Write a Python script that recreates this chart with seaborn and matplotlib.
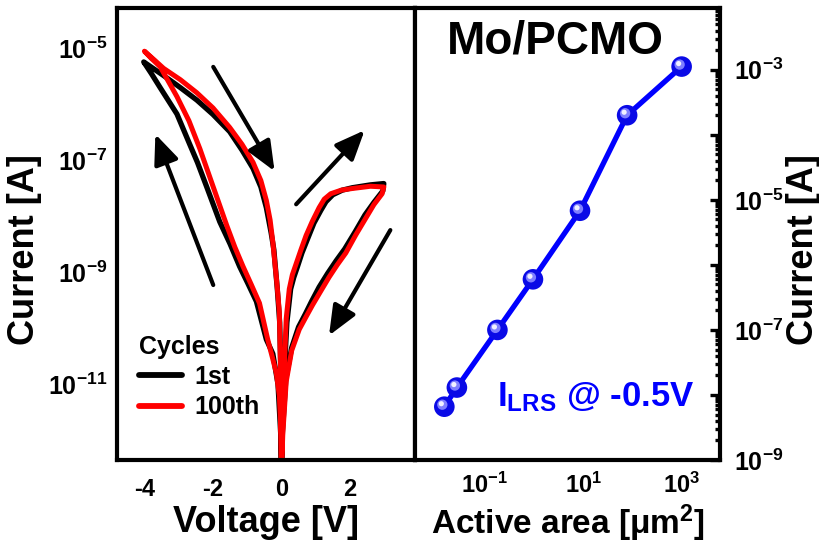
import numpy as np
import pandas as pd
import matplotlib
matplotlib.use("Agg")
import matplotlib.pyplot as plt
import matplotlib.transforms as mtransforms
from matplotlib.ticker import LogLocator, FixedLocator, FuncFormatter, NullFormatter
from matplotlib.lines import Line2D
import seaborn as sns

# ---------------- data ----------------
# 1st cycle: 0 -> +3 V -> 0 -> -4 V -> 0
volt_1st = [0.0, 0.03, 0.10, 0.16, 0.27, 0.36, 0.47, 0.6, 0.77, 0.95, 1.15, 1.3, 1.5, 1.78, 2.07, 2.6, 2.99,
            2.96, 2.7, 2.44, 2.15, 1.85, 1.6, 1.35, 1.1, 0.88, 0.7, 0.5, 0.3, 0.13, 0.03, 0.0,
            -0.02, -0.1, -0.25, -0.44, -0.73, -0.98, -1.22, -1.5, -1.8, -2.18, -2.45, -2.67, -3.05, -3.54, -3.8, -4.02,
            -3.44, -2.95, -2.47, -2.0, -1.51, -1.15, -0.83, -0.6, -0.44, -0.3, -0.22, -0.12, -0.05, -0.02, -0.005, 0.0]
curr_1st = [2.5e-13, 4.0e-12, 2.5e-11, 1.26e-10, 5.0e-10, 8.0e-10, 1.26e-9, 2.2e-9, 4.0e-9, 7.5e-9, 1.26e-8, 1.8e-8, 2.4e-8, 2.9e-8, 3.2e-8, 3.6e-8, 3.8e-8,
            2.8e-8, 1.75e-8, 1.05e-8, 5.2e-9, 2.6e-9, 1.6e-9, 9.5e-10, 5.4e-10, 3.0e-10, 1.8e-10, 1.05e-10, 4.5e-11, 1.26e-11, 1.4e-12, 2.5e-13,
            1.26e-12, 1.0e-11, 3.5e-11, 6.3e-11, 3.0e-10, 6.3e-10, 1.26e-9, 3.2e-9, 7.9e-9, 3.3e-8, 9.0e-8, 1.86e-7, 6.6e-7, 1.95e-6, 3.5e-6, 5.6e-6,
            3.2e-6, 1.95e-6, 1.17e-6, 6.5e-7, 3.2e-7, 1.5e-7, 7.1e-8, 3.3e-8, 1.41e-8, 5.0e-9, 2.5e-9, 5.0e-10, 1.26e-10, 2.0e-11, 2.5e-12, 2.5e-13]

# 100th cycle
volt_100th = [0.0, 0.03, 0.09, 0.14, 0.23, 0.32, 0.43, 0.57, 0.72, 0.9, 1.10, 1.25, 1.44, 1.75, 2.07, 2.6, 2.99,
              2.94, 2.7, 2.46, 2.17, 1.88, 1.63, 1.39, 1.15, 0.91, 0.72, 0.52, 0.3, 0.14, 0.04, 0.0,
              -0.01, -0.06, -0.15, -0.25, -0.4, -0.64, -0.88, -1.12, -1.36, -1.6, -1.99, -2.38, -2.7, -3.05, -3.54, -3.8, -4.0,
              -3.7, -3.44, -2.95, -2.47, -2.0, -1.51, -1.15, -0.83, -0.6, -0.44, -0.33, -0.25, -0.14, -0.06, -0.03, -0.01, 0.0]
curr_100th = [2.5e-13, 5.0e-12, 2.5e-11, 1.48e-10, 5.0e-10, 9.0e-10, 1.41e-9, 2.5e-9, 4.5e-9, 8.0e-9, 1.41e-8, 2.0e-8, 2.5e-8, 2.9e-8, 3.1e-8, 3.4e-8, 3.3e-8,
              2.5e-8, 1.6e-8, 9.1e-9, 4.6e-9, 2.2e-9, 1.35e-9, 8.1e-10, 4.6e-10, 2.6e-10, 1.6e-10, 9.5e-11, 4.0e-11, 1.12e-11, 1.3e-12, 2.5e-13,
              1.26e-12, 6.3e-12, 1.6e-11, 2.8e-11, 6.3e-11, 2.8e-10, 6.0e-10, 1.26e-9, 2.8e-9, 6.9e-9, 3.3e-8, 1.58e-7, 5.0e-7, 1.35e-6, 4.6e-6, 6.5e-6, 8.7e-6,
              6.0e-6, 4.3e-6, 2.7e-6, 1.58e-6, 8.5e-7, 3.8e-7, 1.9e-7, 9.1e-8, 4.3e-8, 1.9e-8, 8.5e-9, 3.4e-9, 7.1e-10, 1.95e-10, 2.3e-11, 2.7e-12, 2.5e-13]

cycle_labels = ["1st", "100th"]
cycle_colors = ["black", "#ff0000"]

# area dependence
active_area = [0.015, 0.027, 0.18, 0.95, 8.6, 78, 1000]
lrs_current = [6.6e-9, 1.3e-8, 1.0e-7, 6.0e-7, 6.8e-6, 2.0e-4, 1.12e-3]

xticks_v = [-4, -2, 0, 2]

# ---------------- style ----------------
sns.set_theme(style="white")
plt.rcParams["font.family"] = ["Liberation Sans", "DejaVu Sans"]
plt.rcParams["font.weight"] = "bold"
plt.rcParams["text.color"] = "black"
plt.rcParams["axes.labelcolor"] = "black"
plt.rcParams["xtick.color"] = "black"
plt.rcParams["ytick.color"] = "black"
plt.rcParams["mathtext.fontset"] = "custom"
plt.rcParams["mathtext.rm"] = "Liberation Sans:bold"
plt.rcParams["mathtext.bf"] = "Liberation Sans:bold"
plt.rcParams["mathtext.it"] = "Liberation Sans:bold:italic"
plt.rcParams["mathtext.default"] = "rm"

fig = plt.figure(figsize=(8.2, 5.48), dpi=100)
fig.patch.set_facecolor("white")
ax1 = fig.add_axes([117 / 820, 1 - 460 / 548, 298 / 820, 452 / 548])
ax2 = fig.add_axes([415 / 820, 1 - 460 / 548, 305 / 820, 452 / 548])

df = pd.concat([
    pd.DataFrame({"V": volt_1st, "I": curr_1st, "cycle": cycle_labels[0]}),
    pd.DataFrame({"V": volt_100th, "I": curr_100th, "cycle": cycle_labels[1]}),
])

for lab, col, lw in zip(cycle_labels, cycle_colors, [3.8, 3.6]):
    sub = df[df["cycle"] == lab]
    sns.lineplot(data=sub, x="V", y="I", sort=False, estimator=None, color=col,
                 lw=lw, ax=ax1, legend=False, solid_joinstyle="round", solid_capstyle="round")

ax1.set_yscale("log")
ax1.set_xlim(-4.8, 3.9)
ax1.set_ylim(10 ** -12.35, 10 ** -4.29)


def odd_exp(val, pos):
    e = int(round(np.log10(val)))
    if e % 2 != 0:
        return r"$10^{%d}$" % e
    return ""


ax1.xaxis.set_major_locator(FixedLocator(xticks_v))
ax1.xaxis.set_minor_locator(FixedLocator([-3, -1, 1, 3]))
ax1.yaxis.set_major_locator(LogLocator(base=10, numticks=20))
ax1.yaxis.set_minor_locator(LogLocator(base=10, subs=np.arange(2, 10), numticks=20))
ax1.yaxis.set_major_formatter(FuncFormatter(odd_exp))
ax1.yaxis.set_minor_formatter(NullFormatter())
ax1.set_xticklabels([str(t) for t in xticks_v])
ax1.tick_params(axis="both", which="both", direction="in", labelsize=17, width=2.4,
                top=False, right=False)
ax1.tick_params(axis="y", labelsize=18)
ax1.tick_params(axis="both", which="major", length=7.5)
ax1.tick_params(axis="both", which="minor", length=3.8)
ax1.tick_params(axis="x", pad=13)
ax1.tick_params(axis="y", pad=7)
ax1.set_xlabel("Voltage [V]", fontsize=26, fontweight="bold")
ax1.set_ylabel("Current [A]", fontsize=26, fontweight="bold")
ax1.xaxis.set_label_coords(0.5, -0.10)
ax1.yaxis.set_label_coords(-0.25, 0.465)

# arrows
arrows = [((-1.99, 10 ** -5.34), (-0.20, 10 ** -7.20)),
          ((-1.99, 10 ** -9.23), (-3.68, 10 ** -6.54)),
          ((0.43, 10 ** -7.79), (2.43, 10 ** -6.47)),
          ((3.18, 10 ** -8.25), (1.39, 10 ** -10.13))]
for tail, head in arrows:
    ax1.annotate("", xy=head, xytext=tail,
                 arrowprops=dict(arrowstyle="-|>,head_length=0.9,head_width=0.38",
                                 lw=3.0, color="black", mutation_scale=20, shrinkA=0, shrinkB=0))

handles = [Line2D([0], [0], color=c, lw=4.2) for c in cycle_colors]
leg = ax1.legend(handles, cycle_labels, title="Cycles", loc="lower left",
                 bbox_to_anchor=(0.0, 0.04), frameon=False, fontsize=18, title_fontsize=18,
                 handlelength=1.7, handletextpad=0.5, labelspacing=0.25, alignment="left")
for t in leg.get_texts():
    t.set_fontweight("bold")
    t.set_color("black")
leg.get_title().set_fontweight("bold")
leg.get_title().set_color("black")

# ---------------- right panel ----------------
sns.lineplot(x=active_area, y=lrs_current, color="#0000ff", lw=3.8, ax=ax2, legend=False)
sns.scatterplot(x=active_area, y=lrs_current, color="#0a0ae6", s=220, edgecolor="none",
                ax=ax2, legend=False, zorder=3)
hl1 = mtransforms.offset_copy(ax2.transData, fig=fig, x=-2, y=2, units="dots")
ax2.scatter(active_area, lrs_current, s=55, color="#7f7fff", edgecolor="none",
            transform=hl1, zorder=4)
hl2 = mtransforms.offset_copy(ax2.transData, fig=fig, x=-3, y=3, units="dots")
ax2.scatter(active_area, lrs_current, s=14, color="#f0f0ff", edgecolor="none",
            transform=hl2, zorder=5)

ax2.set_xscale("log")
ax2.set_yscale("log")
ax2.set_xlim(10 ** -2.42, 10 ** 3.78)
ax2.set_ylim(1e-9, 10 ** -2.05)
ax2.xaxis.set_major_locator(LogLocator(base=10, numticks=20))
ax2.xaxis.set_minor_locator(LogLocator(base=10, subs=np.arange(2, 10), numticks=20))
ax2.xaxis.set_major_formatter(FuncFormatter(odd_exp))
ax2.xaxis.set_minor_formatter(NullFormatter())
ax2.yaxis.set_major_locator(LogLocator(base=10, numticks=20))
ax2.yaxis.set_minor_locator(LogLocator(base=10, subs=np.arange(2, 10), numticks=20))
ax2.yaxis.set_major_formatter(FuncFormatter(odd_exp))
ax2.yaxis.set_minor_formatter(NullFormatter())
ax2.yaxis.tick_right()
ax2.yaxis.set_label_position("right")
ax2.tick_params(axis="both", which="both", direction="in", labelsize=17, width=2.4,
                top=False, left=False)
ax2.tick_params(axis="y", which="both", right=True, labelright=True, left=False, labelleft=False)
ax2.tick_params(axis="y", labelsize=18)
ax2.tick_params(axis="both", which="major", length=7.5)
ax2.tick_params(axis="both", which="minor", length=3.8)
ax2.tick_params(axis="x", pad=9)
ax2.tick_params(axis="y", pad=10)
ax2.set_xlabel(r"Active area [$\mu$m$^{2}$]", fontsize=24, fontweight="bold")
ax2.set_ylabel("Current [A]", fontsize=26, fontweight="bold", rotation=90)
ax2.xaxis.set_label_coords(0.5, -0.095)
ax2.yaxis.set_label_coords(1.215, 0.465)

ax2.text(0.46, 0.925, "Mo/PCMO", transform=ax2.transAxes, fontsize=33, fontweight="bold",
         ha="center", va="center", color="black")
ax2.text(0.27, 0.14, r"$\mathregular{I_{LRS}}$ @ -0.5V", transform=ax2.transAxes, fontsize=25,
         fontweight="bold", ha="left", va="center", color="#0000ff")

for ax in (ax1, ax2):
    for sp in ax.spines.values():
        sp.set_linewidth(3)
        sp.set_color("black")
    ax.set_facecolor("white")
    ax.grid(False)

fig.savefig("out.png", dpi=100, facecolor="white")
